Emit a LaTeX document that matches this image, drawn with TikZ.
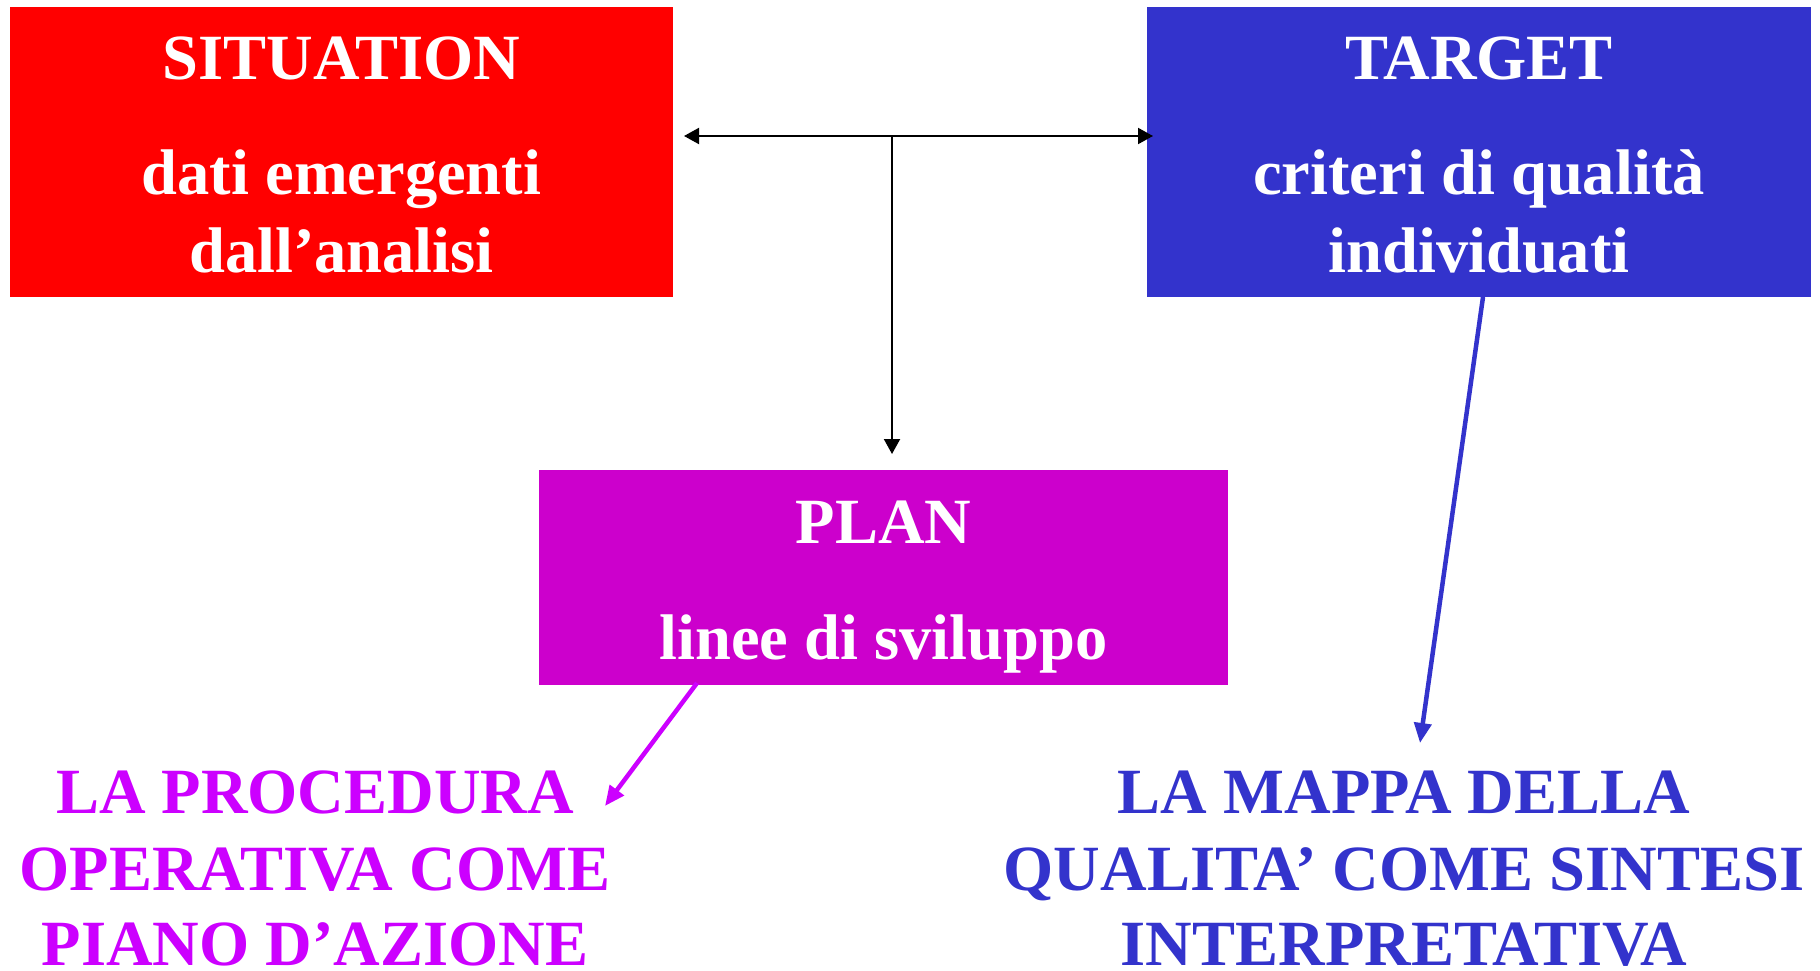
\documentclass[tikz,border=0pt]{standalone}
\usepackage{fontspec}
\setmainfont{Liberation Serif}
\usetikzlibrary{arrows.meta,calc}
\definecolor{sitred}{HTML}{FF0000}
\definecolor{tgtblue}{HTML}{3333CC}
\definecolor{planmag}{HTML}{CC00CC}
\definecolor{procviol}{HTML}{CC00FF}
\tikzset{
  box/.style={draw=none, inner sep=0pt, outer sep=0pt},
  lbl/.style={inner sep=0pt, outer sep=0pt, anchor=base, font=\fontsize{64.5}{78}\selectfont\bfseries},
  whitetxt/.style={lbl, text=white},
  blk/.style={draw=black, line width=2pt, arrows={-Triangle[length=15pt,width=16pt]}},
  blkboth/.style={draw=black, line width=2pt, arrows={Triangle[length=15pt,width=16pt]-Triangle[length=15pt,width=16pt]}},
  fat/.style={line width=4.5pt, arrows={-Triangle[length=20pt,width=17pt]}}
}
\begin{document}
\begin{tikzpicture}[x=1pt,y=-1pt]
\useasboundingbox (0,0) rectangle (1820,971);
% boxes
\node[box, fill=sitred, minimum width=663pt, minimum height=290pt] (sit) at (341.5,152) {};
\node[box, fill=tgtblue, minimum width=664pt, minimum height=290pt] (tgt) at (1479,152) {};
\node[box, fill=planmag, minimum width=689pt, minimum height=215pt] (plan) at (883.5,577.5) {};
% box texts
\node[whitetxt] (sit1) at (341.5,80) {SITUATION};
\node[whitetxt] (sit2) at (341.5,194) {dati emergenti};
\node[whitetxt] (sit3) at (341.5,272) {dall’analisi};
\node[whitetxt] (tgt1) at (1479,80) {TARGET};
\node[whitetxt] (tgt2) at (1479,194) {criteri di qualità};
\node[whitetxt] (tgt3) at (1479,272) {individuati};
\node[whitetxt] (plan1) at (883.5,543) {PLAN};
\node[whitetxt] (plan2) at (883.5,659) {linee di sviluppo};
% bottom texts
\node[lbl, text=procviol] (pr1) at (315,813) {LA PROCEDURA};
\node[lbl, text=procviol] (pr2) at (315,890) {OPERATIVA COME};
\node[lbl, text=procviol] (pr3) at (315,965) {PIANO D’AZIONE};
\node[lbl, text=tgtblue] (mp1) at (1404,813) {LA MAPPA DELLA};
\node[lbl, text=tgtblue] (mp2) at (1404,890) {QUALITA’ COME SINTESI};
\node[lbl, text=tgtblue] (mp3) at (1404,965) {INTERPRETATIVA};
% connectors
\coordinate (hl) at ($(sit.east)+(11,-16)$);
\coordinate (hr) at ($(tgt.west)+(6,-16)$);
\coordinate (hm) at (892,136);
\draw[blkboth] (hl) -- (hr);
\draw[blk] (hm) -- ($(plan.north)+(8.5,-16)$);
\coordinate (procTip) at (605,806);
\coordinate (mapTip) at (1420,743);
\draw[fat, draw=procviol, fill=procviol] ($(plan.south)+(-186.5,-2)$) -- (procTip);
\draw[fat, draw=tgtblue, fill=tgtblue] ($(tgt.south)+(4,0)$) -- (mapTip);
\end{tikzpicture}
\end{document}
